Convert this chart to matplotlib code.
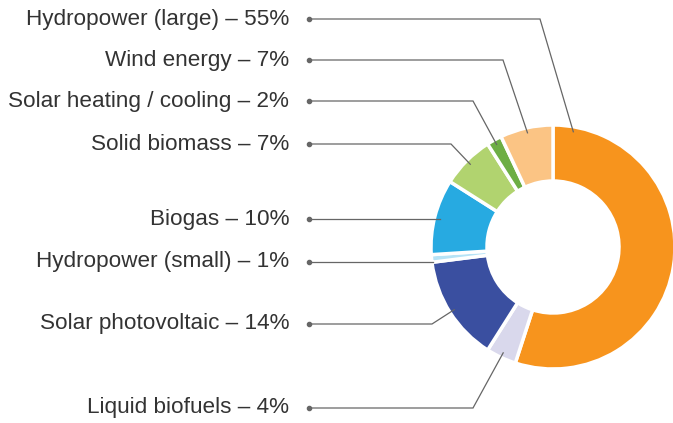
import math
import matplotlib.pyplot as plt

# Share of renewable energy sources, clockwise from 12 o'clock
sources = ['Hydropower (large)', 'Liquid biofuels', 'Solar photovoltaic', 'Hydropower (small)',
           'Biogas', 'Solid biomass', 'Solar heating / cooling', 'Wind energy']
shares = [55, 4, 14, 1, 10, 7, 2, 7]
colors = ['#F7941D', '#D9D8EC', '#3A4FA0', '#B6E3F6', '#27AAE1', '#B1D36F', '#6DAE44', '#FBC484']

# label rows on the left (pixel y from top) and elbow x of each leader line
label_y = [19, 408, 324, 262, 219, 144, 101, 60]
elbow_x = [540, 473, 432, None, None, 451, 473, 503]

W, H = 673, 423
cx, cy = 553, H - 247   # donut centre in pixel coords (y up)
R, ring = 122, 56

fig = plt.figure(figsize=(W / 100, H / 100), dpi=100)
ax = fig.add_axes([0, 0, 1, 1])

wedges, _ = ax.pie(shares, colors=colors, startangle=90, counterclock=False,
                   center=(cx, cy), radius=R,
                   wedgeprops=dict(width=ring, edgecolor='white', linewidth=2.5))

ax.set_xlim(0, W)
ax.set_ylim(0, H)
ax.set_aspect('equal')
ax.axis('off')

total = sum(shares)
start = 0.0
for i, (name, val) in enumerate(zip(sources, shares)):
    # angles measured clockwise from the top
    a0 = start / total * 360
    a1 = (start + val) / total * 360
    start += val
    ang = a0 + 10 if i == 0 else (a0 + a1) / 2
    r = R - 1 if val == 1 else R - 5
    ax_ = cx + r * math.sin(math.radians(ang))
    ay_ = cy + r * math.cos(math.radians(ang))

    ly = H - label_y[i]
    if elbow_x[i] is None:
        xs, ys = [309, ax_], [ly, ly]
    else:
        xs, ys = [309, elbow_x[i], ax_], [ly, ly, ay_]
    ax.plot(xs, ys, color='#666666', linewidth=0.9, solid_joinstyle='miter')
    ax.plot([309], [ly], 'o', color='#666666', markersize=3)

    ax.text(289, ly, f'{name} \u2013 {val}%', ha='right', va='center',
            fontsize=16.2, color='#333333', family=['Liberation Sans', 'DejaVu Sans'])

fig.savefig('out.png', dpi=100)
